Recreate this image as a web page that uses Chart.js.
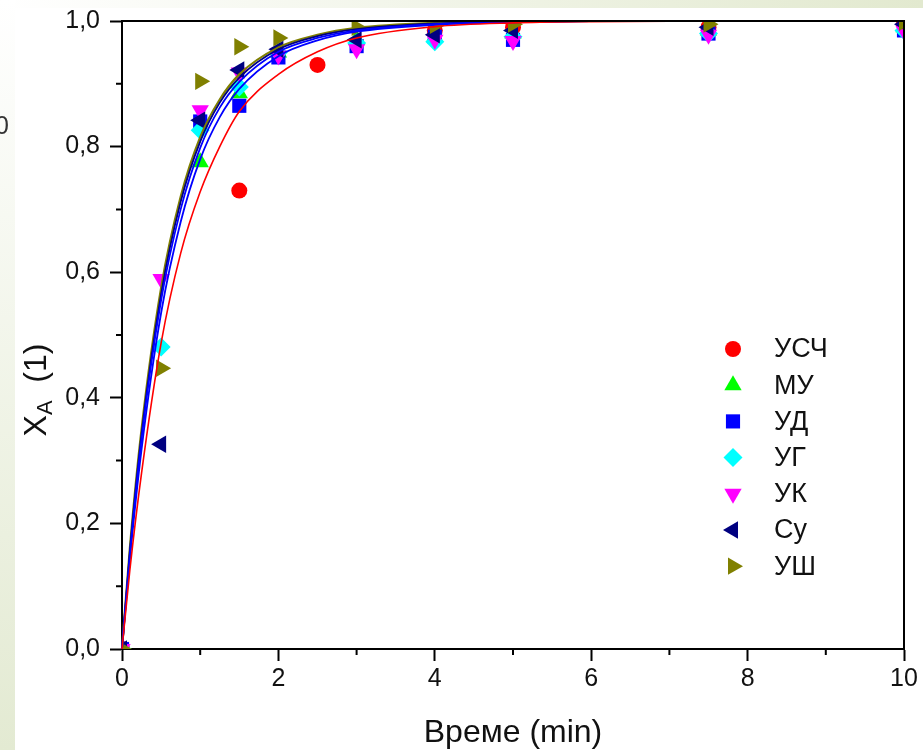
<!DOCTYPE html>
<html>
<head>
<meta charset="utf-8">
<script src="https://cdn.jsdelivr.net/npm/chart.js@4.4.1/dist/chart.umd.min.js"></script>
<style>
  html, body { margin: 0; padding: 0; background: #fff; }
  canvas { display: block; }
</style>
</head>
<body>
<canvas id="kinetics" width="923" height="750"></canvas>
<script>
// measured points (time, min -> conversion X_A)
const seriesNames = ['УСЧ', 'МУ', 'УД', 'УГ', 'УК', 'Су', 'УШ'];
const timeUSC = [0, 1.5, 2.5, 4, 5, 7.5, 10];
const valUSC = [0, 0.73, 0.93, 0.985, 0.99, 0.99, 0.995];
const timeMU = [0, 1, 1.5, 2, 3, 4, 5, 7.5, 10];
const valMU = [0, 0.775, 0.885, 0.95, 0.97, 0.975, 0.98, 0.985, 0.99];
const timeUD = [0, 1, 1.5, 2, 3, 4, 5, 7.5, 10];
const valUD = [0, 0.84, 0.865, 0.942, 0.96, 0.975, 0.97, 0.98, 0.985];
const timeAll = [0, 0.5, 1, 1.5, 2, 3, 4, 5, 7.5, 10];
const valUG = [0, 0.481, 0.826, 0.895, 0.95, 0.965, 0.967, 0.975, 0.98, 0.985];
const valUK = [0, 0.589, 0.858, 0.918, 0.945, 0.955, 0.97, 0.968, 0.978, 0.985];
const valSu = [0, 0.326, 0.842, 0.922, 0.955, 0.97, 0.978, 0.985, 0.99, 0.995];
const valUSh = [0, 0.447, 0.904, 0.959, 0.973, 0.99, 0.993, 0.995, 0.995, 0.998];

// fitted curves
const timeFit = [0, 0.1, 0.25, 0.5, 0.75, 1, 1.25, 1.5, 2, 2.5, 3, 4, 5, 6, 7.5, 10];
const fitOlive = [0, 0.16, 0.35, 0.575, 0.72, 0.815, 0.875, 0.915, 0.958, 0.978, 0.989, 0.997, 0.999, 1, 1, 1];
const fitNavy = [0, 0.155, 0.342, 0.565, 0.712, 0.808, 0.87, 0.91, 0.955, 0.976, 0.987, 0.996, 0.999, 1, 1, 1];
const fitBlue = [0, 0.15, 0.335, 0.555, 0.70, 0.798, 0.862, 0.903, 0.951, 0.973, 0.985, 0.995, 0.998, 1, 1, 1];
const fitBlue2 = [0, 0.142, 0.318, 0.535, 0.68, 0.78, 0.847, 0.892, 0.944, 0.969, 0.983, 0.994, 0.998, 1, 1, 1];
const fitRed = [0, 0.125, 0.28, 0.487, 0.63, 0.728, 0.8, 0.856, 0.915, 0.951, 0.973, 0.991, 0.997, 0.999, 1, 1];

const xTicks = [0, 2, 4, 6, 8, 10];
const xMinor = [1, 3, 5, 7, 9];
const yMinor = [0.1, 0.3, 0.5, 0.7, 0.9];

const markers = [
    { color: '#ff0000', style: 'circle', radius: 8, rotation: 0 },
    { color: '#00ff00', style: 'triangle', radius: 10, rotation: 0 },
    { color: '#0000ff', style: 'rect', radius: 10, rotation: 0 },
    { color: '#00ffff', style: 'rectRot', radius: 9.5, rotation: 0 },
    { color: '#ff00ff', style: 'triangle', radius: 10, rotation: 180 },
    { color: '#000080', style: 'triangle', radius: 10, rotation: -90 },
    { color: '#808000', style: 'triangle', radius: 10, rotation: 90 }
];

const pointSets = [
    [timeUSC, valUSC], [timeMU, valMU], [timeUD, valUD],
    [timeAll, valUG], [timeAll, valUK], [timeAll, valSu], [timeAll, valUSh]
];

function toXY(xs, ys) {
    return xs.map((x, i) => ({ x: x, y: ys[i] }));
}

const datasets = [];
pointSets.forEach((set, i) => {
    const m = markers[i];
    datasets.push({
        type: 'scatter',
        label: seriesNames[i],
        data: toXY(set[0], set[1]),
        pointStyle: m.style,
        pointRadius: m.radius,
        pointRotation: m.rotation,
        pointBackgroundColor: m.color,
        pointBorderColor: m.color,
        pointBorderWidth: 0,
        showLine: false,
        clip: 0,
        order: 10 - i
    });
});

const fitLines = [
    [fitRed, '#ff0000', 1.6],
    [fitBlue2, '#0000ff', 1.8],
    [fitBlue, '#0000ff', 1.8],
    [fitNavy, '#000080', 1.8],
    [fitOlive, '#808000', 2.2]
];
fitLines.forEach(f => {
    datasets.push({
        type: 'line',
        label: 'fit',
        data: toXY(timeFit, f[0]),
        borderColor: f[1],
        borderWidth: f[2],
        pointRadius: 0,
        cubicInterpolationMode: 'monotone',
        fill: false,
        clip: 2,
        order: 0
    });
});

const FONT = '"Liberation Sans", Arial, sans-serif';

const decor = {
    id: 'decor',
    beforeDraw(chart) {
        const ctx = chart.ctx;
        ctx.save();
        ctx.fillStyle = '#ffffff';
        ctx.fillRect(0, 0, chart.width, chart.height);
        let g = ctx.createLinearGradient(0, 0, chart.width, 0);
        g.addColorStop(0, '#ffffff');
        g.addColorStop(1, '#e2e9cf');
        ctx.fillStyle = g;
        ctx.fillRect(0, 0, chart.width, 8);
        g = ctx.createLinearGradient(0, 0, 0, chart.height);
        g.addColorStop(0, '#ffffff');
        g.addColorStop(1, '#e3ead2');
        ctx.fillStyle = g;
        ctx.fillRect(0, 0, 15, chart.height);
        ctx.fillStyle = '#333';
        ctx.font = '25px ' + FONT;
        ctx.textBaseline = 'middle';
        ctx.fillText('0', -5, 127);
        ctx.restore();
    },
    afterDraw(chart) {
        const ctx = chart.ctx;
        const a = chart.chartArea;
        const xs = chart.scales.x, ys = chart.scales.y;
        ctx.save();
        // frame top + right
        ctx.strokeStyle = '#000';
        ctx.lineWidth = 2;
        ctx.beginPath();
        ctx.moveTo(a.left, a.top);
        ctx.lineTo(a.right, a.top);
        ctx.lineTo(a.right, a.bottom);
        ctx.stroke();
        // minor ticks
        ctx.beginPath();
        xMinor.forEach(v => {
            const px = xs.getPixelForValue(v);
            ctx.moveTo(px, a.bottom);
            ctx.lineTo(px, a.bottom + 6);
        });
        yMinor.forEach(v => {
            const py = ys.getPixelForValue(v);
            ctx.moveTo(a.left, py);
            ctx.lineTo(a.left - 6, py);
        });
        ctx.stroke();

        // axis titles
        ctx.fillStyle = '#111';
        ctx.textBaseline = 'middle';
        ctx.textAlign = 'center';
        ctx.font = '32px ' + FONT;
        ctx.fillText('Време (min)', (a.left + a.right) / 2, 733);

        ctx.translate(37, 390);
        ctx.rotate(-Math.PI / 2);
        ctx.textAlign = 'left';
        const big = '32px ' + FONT, small = '22px ' + FONT;
        ctx.font = big;
        const wX = ctx.measureText('X').width;
        const wRest = ctx.measureText('  (1)').width;
        ctx.font = small;
        const wA = ctx.measureText('A').width;
        let x0 = -(wX + wA + wRest) / 2;
        ctx.font = big;
        ctx.fillText('X', x0, 0);
        ctx.font = small;
        ctx.fillText('A', x0 + wX, 9);
        ctx.font = big;
        ctx.fillText('  (1)', x0 + wX + wA, 0);
        ctx.setTransform(1, 0, 0, 1, 0, 0);

        // legend
        ctx.font = '27px ' + FONT;
        ctx.textAlign = 'left';
        seriesNames.forEach((name, i) => {
            const y = 349 + i * 36.2;
            const m = markers[i];
            ctx.fillStyle = m.color;
            Chart.helpers.drawPoint(ctx, {
                pointStyle: m.style, radius: m.radius, rotation: m.rotation, borderWidth: 0
            }, 733, y);
            ctx.fillStyle = '#111';
            ctx.fillText(name, 774, y + 1);
        });
        ctx.restore();
    }
};

new Chart(document.getElementById('kinetics'), {
    type: 'scatter',
    data: { datasets: datasets },
    options: {
        responsive: false,
        animation: false,
        devicePixelRatio: 1,
        layout: { padding: { top: 21, right: 19, left: 0, bottom: 0 } },
        plugins: { legend: { display: false }, tooltip: { enabled: false } },
        scales: {
            x: {
                type: 'linear',
                min: 0,
                max: 10,
                afterBuildTicks(scale) {
                    scale.ticks = xTicks.map(v => ({ value: v }));
                },
                ticks: {
                    color: '#111',
                    font: { family: FONT, size: 25 },
                    padding: 3,
                    maxRotation: 0,
                    autoSkip: false,
                    callback: v => String(v)
                },
                grid: { drawOnChartArea: false, tickLength: 12, tickWidth: 2, tickColor: '#000' },
                border: { color: '#000', width: 2 },
                afterFit(scale) {
                    scale.height = 101;
                    scale.paddingLeft = 0;
                    scale.paddingRight = 0;
                }
            },
            y: {
                type: 'linear',
                min: 0,
                max: 1,
                ticks: {
                    stepSize: 0.2,
                    color: '#111',
                    font: { family: FONT, size: 25 },
                    padding: 10,
                    callback: v => v.toFixed(1).replace('.', ',')
                },
                grid: { drawOnChartArea: false, tickLength: 12, tickWidth: 2, tickColor: '#000' },
                border: { color: '#000', width: 2 },
                afterFit(scale) {
                    scale.width = 122;
                    scale.paddingTop = 0;
                    scale.paddingBottom = 0;
                }
            }
        }
    },
    plugins: [decor]
});
</script>
</body>
</html>
